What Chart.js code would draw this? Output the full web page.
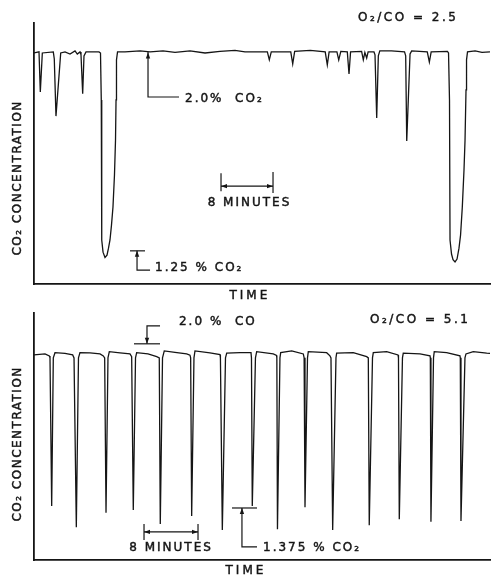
<!DOCTYPE html>
<html><head><meta charset="utf-8">
<script src="https://cdn.jsdelivr.net/npm/chart.js@4"></script>
<style>
html,body{margin:0;padding:0;background:#fff;width:493px;height:576px;overflow:hidden}
.box{position:absolute;left:0;width:493px}
#b1{top:0;height:310px}
#b2{top:300px;height:276px}
</style></head><body>
<div class="box" id="b1"><canvas id="c1"></canvas></div>
<div class="box" id="b2"><canvas id="c2"></canvas></div>
<script>
// ---- data: time in minutes, CO2 concentration in % ----
const topTime = [0,0.77,0.97,1.28,2.97,3.12,3.38,4.11,4.77,5.54,6.31,6.66,7.08,7.23,7.49,7.69,8.00,10.0,10.23,10.35,10.42,10.62,10.92,11.23,11.46,11.69,11.92,12.15,12.38,12.54,12.62,12.69,12.85,14.0,16.31,17.85,19.85,21.69,24.0,26.31,28.62,30.92,32.46,34.77,35.9,36.2,36.5,39.5,39.8,40.1,42.5,44.8,45.12,45.4,46.6,46.88,47.2,48.2,48.46,48.7,50.4,50.66,50.9,51.18,51.4,52.3,52.46,52.72,52.97,53.2,55.0,57.0,57.18,57.34,57.85,58.1,60.5,60.82,61.1,63.6,63.77,63.92,64.0,64.23,64.46,64.77,65.08,65.38,65.62,65.89,66.15,66.31,66.46,66.54,66.69,67.85,68.92,70.15];
const topCO2 = [1.996,2.000,1.849,1.996,2.000,1.974,1.758,1.996,2.000,1.992,2.004,1.992,2.000,1.989,1.842,1.985,2.000,2.000,1.996,1.819,1.291,1.245,1.225,1.234,1.260,1.291,1.347,1.415,1.536,1.668,1.819,1.970,2.000,2.000,2.004,2.000,2.004,1.998,2.004,1.996,2.002,2.006,2.000,2.000,2.000,1.970,2.000,2.000,1.955,2.002,2.006,2.000,1.951,2.000,2.000,1.970,2.002,2.000,1.917,2.000,2.002,1.970,1.998,1.977,2.000,2.000,1.989,1.751,1.985,2.004,2.004,2.000,1.985,1.664,1.992,2.004,2.000,1.962,2.000,2.002,1.996,1.819,1.291,1.238,1.217,1.208,1.219,1.260,1.309,1.415,1.555,1.668,1.857,1.970,2.000,2.004,1.998,2.000];

const botTime = [0,1.63,2.27,2.37,2.62,2.86,3.11,4.59,5.73,5.93,6.27,6.59,6.81,8.30,9.78,10.27,10.47,10.67,10.96,11.16,12.74,14.22,14.47,14.71,15.04,15.21,16.89,18.18,18.56,18.71,19.04,19.30,20.89,22.62,23.11,23.21,23.36,23.70,23.85,26.07,27.56,27.62,27.90,28.37,28.55,30.52,32.15,32.22,32.34,32.81,32.99,35.45,35.93,35.98,36.07,36.44,36.55,38.18,39.90,40.02,40.15,40.52,40.64,43.36,43.85,44.00,44.25,44.74,44.84,47.30,49.29,49.53,49.67,50.15,50.27,52.25,53.93,54.00,54.12,54.59,54.71,57.19,58.67,58.72,58.81,59.19,59.30,61.14,63.11,63.16,63.26,63.85,64.00,65.08,67.07,67.56];
const botCO2 = [1.996,2.000,1.992,1.984,1.383,1.984,2.005,2.002,1.996,1.984,1.297,1.984,2.005,2.004,2.000,1.992,1.984,1.356,1.984,2.009,2.004,2.000,1.989,1.367,1.984,2.005,2.000,1.989,1.984,1.310,1.984,2.012,2.006,2.000,1.995,1.984,1.343,1.984,2.012,2.004,1.997,1.984,1.286,1.984,2.003,2.005,2.005,1.984,1.383,1.984,2.009,2.000,1.994,1.984,1.289,1.984,2.005,2.012,2.000,1.984,1.378,1.984,2.009,2.005,1.992,1.984,1.286,1.984,2.003,2.005,1.989,1.984,1.305,1.984,2.005,2.009,1.996,1.984,1.329,1.984,2.003,2.000,1.992,1.984,1.319,1.984,2.009,2.005,1.992,1.984,1.322,1.984,2.000,2.009,2.003,2.002];

const topRange = {xMin:0, xMax:70.15, yMin:1.125, yMax:2.109};
const botRange = {xMin:0, xMax:67.56, yMin:1.164, yMax:2.166};

const INK = '#151515';
const FONT = '"DejaVu Sans", sans-serif';

// ---- annotations (data coordinates) ----
const topNotes = {
  paths: [
    [[17.54,2.0],[17.54,1.830],[22.31,1.830]],
    [[28.77,1.494],[36.77,1.494]],
    [[28.77,1.543],[28.77,1.475]],
    [[36.77,1.547],[36.77,1.468]],
    [[14.77,1.25],[17.08,1.25]],
    [[15.85,1.25],[15.85,1.177],[17.85,1.177]]
  ],
  arrows: [[17.54,1.998,'up'],[15.85,1.25,'up'],[28.77,1.494,'left'],[36.77,1.494,'right']],
  texts: [
    {text:'O₂/CO = 2.5', t:49.85, v:2.128, ls:2.5},
    {text:'2.0%  CO₂', t:23.23, v:1.823},
    {text:'8 MINUTES', t:33.15, v:1.430, align:'center'},
    {text:'1.25 % CO₂', t:18.62, v:1.185},
    {text:'TIME', t:33.2, v:1.079, align:'center', ls:3},
    {text:'CO₂ CONCENTRATION', t:-2.46, v:1.525, align:'center', rot:true, ls:1.5}
  ]
};
const botNotes = {
  paths: [
    [[14.81,2.041],[18.67,2.041]],
    [[18.67,2.114],[16.74,2.114],[16.74,2.041]],
    [[16.30,1.278],[24.30,1.278]],
    [[16.30,1.310],[16.30,1.245]],
    [[24.30,1.310],[24.30,1.245]],
    [[29.33,1.375],[33.04,1.375]],
    [[30.81,1.375],[30.81,1.217],[33.04,1.217]]
  ],
  arrows: [[16.74,2.041,'down'],[30.81,1.375,'up'],[16.30,1.278,'left'],[24.30,1.278,'right']],
  texts: [
    {text:'O₂/CO = 5.1', t:49.78, v:2.138, ls:2.5},
    {text:'2.0 %  CO', t:21.48, v:2.130},
    {text:'8 MINUTES', t:20.3, v:1.213, align:'center'},
    {text:'1.375 % CO₂', t:33.93, v:1.213},
    {text:'TIME', t:31.4, v:1.119, align:'center', ls:3},
    {text:'CO₂ CONCENTRATION', t:-2.37, v:1.635, align:'center', rot:true, ls:1.5}
  ]
};

function notesPlugin(cfg) {
  return {
    id: 'notes',
    afterDraw(chart) {
      const ctx = chart.ctx, xs = chart.scales.x, ys = chart.scales.y;
      const X = t => xs.getPixelForValue(t), Y = v => ys.getPixelForValue(v);
      ctx.save();
      ctx.strokeStyle = INK; ctx.fillStyle = INK; ctx.lineWidth = 1.2;
      cfg.paths.forEach(p => {
        ctx.beginPath();
        p.forEach((pt, i) => { const px = X(pt[0]), py = Y(pt[1]); i ? ctx.lineTo(px, py) : ctx.moveTo(px, py); });
        ctx.stroke();
      });
      cfg.arrows.forEach(([t, v, dir]) => {
        const px = X(t), py = Y(v), L = 6, W = 2.2;
        ctx.beginPath();
        if (dir === 'up') { ctx.moveTo(px, py); ctx.lineTo(px - W, py + L); ctx.lineTo(px + W, py + L); }
        else if (dir === 'down') { ctx.moveTo(px, py); ctx.lineTo(px - W, py - L); ctx.lineTo(px + W, py - L); }
        else if (dir === 'left') { ctx.moveTo(px, py); ctx.lineTo(px + L, py - W); ctx.lineTo(px + L, py + W); }
        else { ctx.moveTo(px, py); ctx.lineTo(px - L, py - W); ctx.lineTo(px - L, py + W); }
        ctx.closePath(); ctx.fill();
      });
      cfg.texts.forEach(tx => {
        ctx.save();
        ctx.font = (tx.size || 12) + 'px ' + FONT;
        ctx.letterSpacing = (tx.ls ?? 2) + 'px';
        ctx.textBaseline = 'middle';
        ctx.textAlign = tx.align || 'left';
        ctx.translate(X(tx.t), Y(tx.v));
        if (tx.rot) ctx.rotate(-Math.PI / 2);
        ctx.lineWidth = 0.45;
        ctx.fillText(tx.text, 0, 0);
        ctx.strokeText(tx.text, 0, 0);
        ctx.restore();
      });
      ctx.restore();
    }
  };
}

function axisOpts(min, max) {
  return {
    type: 'linear', min, max, display: true,
    grid: { display: false, drawTicks: false },
    ticks: { display: false },
    border: { display: true, color: INK, width: 1.8 },
    title: { display: false }
  };
}

function makeChart(id, times, vals, range, notes, pad) {
  return new Chart(document.getElementById(id), {
    type: 'line',
    data: {
      datasets: [{
        data: times.map((t, i) => ({ x: t, y: vals[i] })),
        borderColor: INK, borderWidth: 1.3, pointRadius: 0, tension: 0, fill: false
      }]
    },
    options: {
      responsive: true, maintainAspectRatio: false, animation: false,
      layout: { padding: pad },
      plugins: { legend: { display: false }, tooltip: { enabled: false } },
      scales: { x: axisOpts(range.xMin, range.xMax), y: axisOpts(range.yMin, range.yMax) }
    },
    plugins: [notesPlugin(notes)]
  });
}

makeChart('c1', topTime, topCO2, topRange, topNotes, { left: 34, right: 3, top: 23, bottom: 26 });
makeChart('c2', botTime, botCO2, botRange, botNotes, { left: 34, right: 3, top: 13, bottom: 16 });
</script>
</body></html>
